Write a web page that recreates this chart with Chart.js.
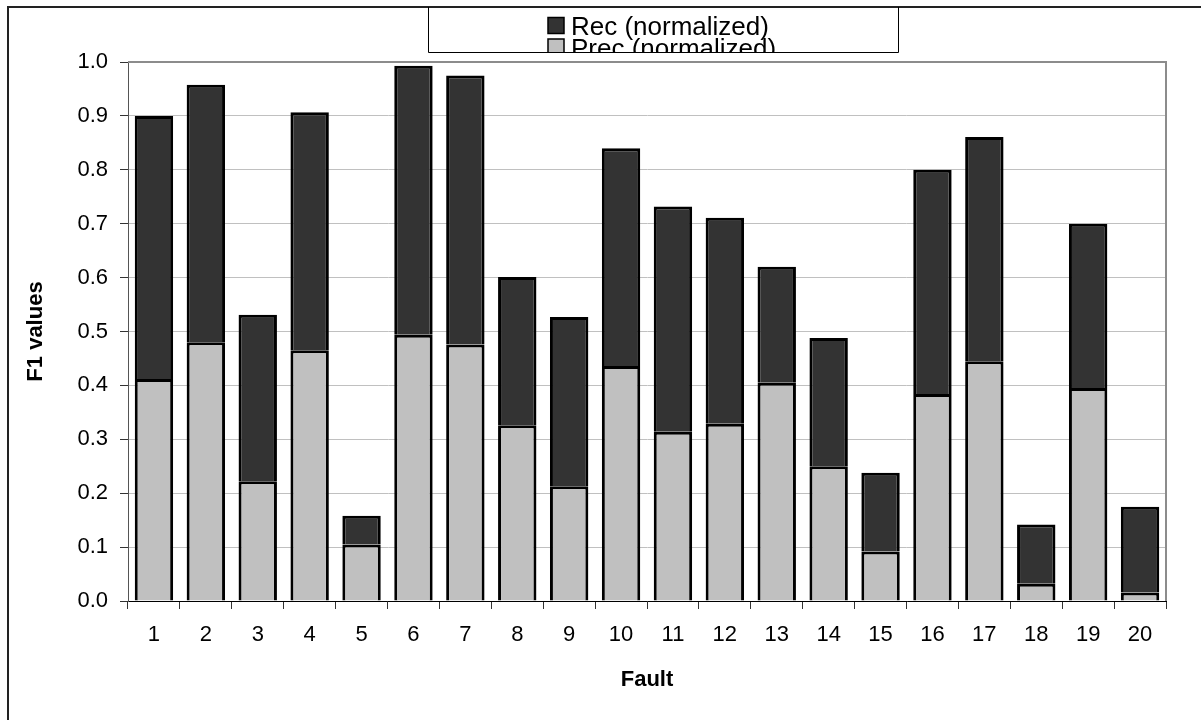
<!DOCTYPE html>
<html>
<head>
<meta charset="utf-8">
<script src="https://cdn.jsdelivr.net/npm/chart.js@4/dist/chart.umd.min.js"></script>
<style>
  html, body { margin: 0; padding: 0; background: #fff; }
  #wrap { position: relative; width: 1201px; height: 720px; }
</style>
</head>
<body>
<div id="wrap"><canvas id="c" width="1201" height="720"></canvas></div>
<script>
// ---- data ----
const faults = ['1','2','3','4','5','6','7','8','9','10','11','12','13','14','15','16','17','18','19','20'];
const precNormalized = [0.412,0.480,0.222,0.465,0.105,0.494,0.476,0.326,0.213,0.436,0.314,0.329,0.405,0.250,0.092,0.384,0.445,0.032,0.395,0.016];
const recNormalized  = [0.488,0.478,0.309,0.442,0.053,0.499,0.499,0.275,0.314,0.404,0.418,0.382,0.215,0.238,0.146,0.416,0.416,0.110,0.305,0.159];
const yTicks = [0,0.1,0.2,0.3,0.4,0.5,0.6,0.7,0.8,0.9,1.0];
const seriesLabels = ['Prec (normalized)', 'Rec (normalized)'];
const xTitle = 'Fault';
const yTitle = 'F1 values';

const FONT = "'Liberation Sans', Arial, sans-serif";
const DARK = '#333333';
const LIGHT = '#c0c0c0';

const framePlugin = {
  id: 'frame',
  afterDraw(chart) {
    const ctx = chart.ctx;
    const a = chart.chartArea;
    ctx.save();
    // plot area top/right border
    ctx.strokeStyle = '#8c8c8c';
    ctx.lineWidth = 2;
    ctx.beginPath();
    ctx.moveTo(a.left, a.top);
    ctx.lineTo(a.right, a.top);
    ctx.lineTo(a.right, a.bottom);
    ctx.stroke();
    // outer frame (left and top)
    ctx.strokeStyle = '#222';
    ctx.lineWidth = 2;
    ctx.beginPath();
    ctx.moveTo(8, 720);
    ctx.lineTo(8, 7);
    ctx.lineTo(1201, 7);
    ctx.stroke();
    // legend box
    const bx = 428.5, by = 7, bw = 470, bh = 45.5;
    ctx.fillStyle = '#fff';
    ctx.fillRect(bx, by + 1, bw, bh - 1);
    ctx.strokeStyle = '#000';
    ctx.lineWidth = 1;
    ctx.beginPath();
    ctx.moveTo(bx, by);
    ctx.lineTo(bx, by + bh);
    ctx.lineTo(bx + bw, by + bh);
    ctx.lineTo(bx + bw, by);
    ctx.stroke();
    // legend items (clipped to box)
    ctx.save();
    ctx.beginPath();
    ctx.rect(bx, by + 1, bw, bh - 1.5);
    ctx.clip();
    const items = [
      { label: chart.data.datasets[1].label, color: chart.data.datasets[1].backgroundColor },
      { label: chart.data.datasets[0].label, color: chart.data.datasets[0].backgroundColor }
    ];
    ctx.font = '26px ' + FONT;
    ctx.textBaseline = 'alphabetic';
    ctx.textAlign = 'left';
    items.forEach((it, i) => {
      const sy = 17.5 + i * 21.5;
      ctx.fillStyle = it.color;
      ctx.fillRect(548, sy, 16, 16);
      ctx.strokeStyle = '#000';
      ctx.lineWidth = 1.5;
      ctx.strokeRect(548, sy, 16, 16);
      ctx.fillStyle = '#000';
      ctx.fillText(it.label, 571, sy + 17.5);
    });
    ctx.restore();
    ctx.restore();
  }
};

new Chart(document.getElementById('c'), {
  type: 'bar',
  data: {
    labels: faults,
    datasets: [
      { label: seriesLabels[0], data: precNormalized, backgroundColor: LIGHT, borderColor: '#000', borderWidth: 3 },
      { label: seriesLabels[1], data: recNormalized, backgroundColor: DARK, borderColor: '#000', borderWidth: 3 }
    ]
  },
  options: {
    responsive: false,
    animation: false,
    maintainAspectRatio: false,
    layout: { padding: { left: 0, top: 62, right: 35, bottom: 0 } },
    datasets: { bar: { barPercentage: 0.74, categoryPercentage: 1.0 } },
    plugins: { legend: { display: false }, tooltip: { enabled: false }, title: { display: false } },
    scales: {
      x: {
        stacked: true,
        afterFit(s) { s.height = 119; },
        grid: { display: true, drawOnChartArea: false, drawTicks: true, tickLength: 8, tickColor: '#333', offset: true },
        border: { display: true, color: '#000', width: 1 },
        ticks: { color: '#000', font: { family: FONT, size: 22 }, padding: 13, maxRotation: 0, autoSkip: false },
        title: { display: true, text: xTitle, color: '#000', font: { family: FONT, size: 22, weight: 'bold' }, padding: { top: 0, bottom: 27 } }
      },
      y: {
        stacked: true,
        min: 0,
        max: 1,
        afterFit(s) { s.width = 128; },
        afterBuildTicks(s) { s.ticks = yTicks.map(v => ({ value: v })); },
        grid: { color: LIGHT, lineWidth: 1, drawTicks: true, tickLength: 8, tickColor: '#333' },
        border: { display: true, color: '#555', width: 1 },
        ticks: { color: '#000', font: { family: FONT, size: 22 }, padding: 12, callback: v => Number(v).toFixed(1) },
        title: { display: true, text: yTitle, color: '#000', font: { family: FONT, size: 22, weight: 'bold' }, padding: { top: 23, bottom: 0 } }
      }
    }
  },
  plugins: [framePlugin]
});
</script>
</body>
</html>
